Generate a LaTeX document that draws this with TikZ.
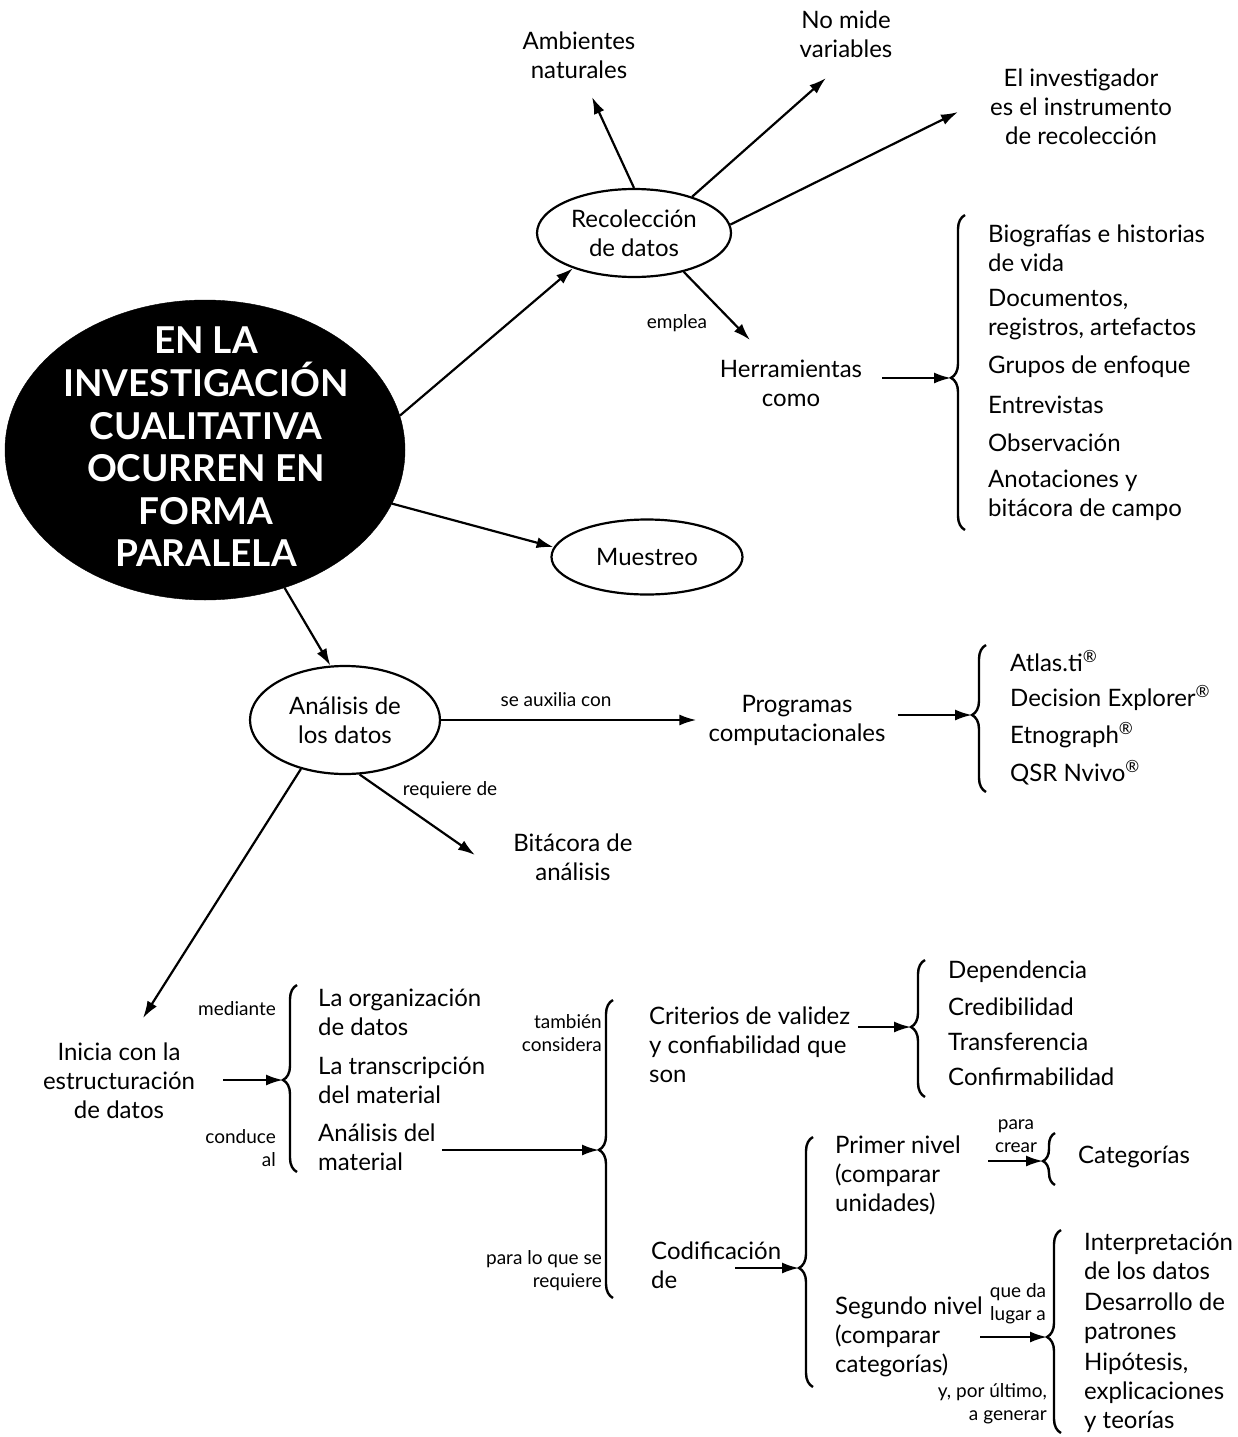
\documentclass[tikz,border=0pt]{standalone}
\usepackage{fontspec}
\setmainfont{Lato}
\usetikzlibrary{shapes.geometric,arrows.meta,decorations.pathreplacing,calc}
\newcommand\myfmain{\fontsize{24}{29}\selectfont}
\newcommand\myfsmall{\fontsize{19}{23}\selectfont}
\newcommand\myfbig{\fontsize{37}{42.6}\selectfont\bfseries}
\begin{document}
\begin{tikzpicture}[x=1pt,y=-1pt,
  arr/.style={line width=2.2pt,-{Latex[length=17pt,width=11pt]}},
  txt/.style={font=\myfmain,align=center,inner sep=0pt},
  txtl/.style={font=\myfmain,align=left,anchor=west,inner sep=0pt},
  lbl/.style={font=\myfsmall,inner sep=0pt},
  lblr/.style={font=\myfsmall,inner sep=0pt,anchor=east,align=right},
  oval/.style={draw,ellipse,line width=2.2pt,inner sep=0pt,font=\myfmain,align=center},
  brc/.style={decorate,decoration={brace,amplitude=14},line width=2.4pt}]
\useasboundingbox (0,0) rectangle (1237,1437);

% central node
\node[draw,fill=black,ellipse,minimum width=400,minimum height=300,inner sep=0pt] (main) at (205,450) {};
\node[font=\myfbig,text=white,align=center,inner sep=0pt] (maintxt) at (206,447) {EN LA\\INVESTIGACIÓN\\CUALITATIVA\\OCURREN EN\\FORMA\\PARALELA};

% ovals
\node[oval,minimum width=194,minimum height=88] (recol) at (634,233) {Recolección\\de datos};
\node[oval,minimum width=191,minimum height=75] (muest) at (647,557) {Muestreo};
\node[oval,minimum width=190,minimum height=108] (anal) at (345,720) {Análisis de\\los datos};

% top texts
\node[txt] (amb) at (579,55) {Ambientes\\naturales};
\node[txt] (nomide) at (846,34) {No mide\\variables};
\node[txt] (elinv) at (1081,107) {El investigador\\es el instrumento\\de recolección};
\coordinate (tamb) at (592,97);
\coordinate (tnom) at (826,78);
\coordinate (telinv) at (958,112);
\coordinate (therr) at (750,340);

\draw[arr] (main.10) -- (recol.210);
\draw[arr] (main.-16) -- (muest.174);
\draw[arr] (main.-60) -- (anal.105);
\draw[arr] (recol.90) -- (tamb);
\draw[arr] (recol.32) -- (tnom);
\draw[arr] (recol.5) -- (telinv);
\draw[arr] (recol.-38) -- (therr);
\node[lbl] (lemplea) at (677,323) {emplea};

% herramientas
\node[txt] (herr) at (791,383) {Herramientas\\como};
\draw[brc,decoration={aspect=0.483}] (965,530) -- (965,215);
\coordinate (b1) at (951,378);
\draw[arr] ($(herr.east |- b1)+(20,0)$) -- (b1);
\node[txtl] (i1a) at (988,248) {Biografías e historias\\de vida};
\node[txtl] (i1b) at (988,314.5) {Documentos,\\registros, artefactos};
\node[txtl] (i1c) at (988,367) {Grupos de enfoque};
\node[txtl] (i1d) at (988,405) {Entrevistas};
\node[txtl] (i1e) at (988,443) {Observación};
\node[txtl] (i1f) at (988,495.5) {Anotaciones y\\bitácora de campo};

% programas
\node[txt] (prog) at (797,720) {Programas\\computacionales};
\draw[arr] (anal.east) -- ($(prog.west)+(-12,0)$) coordinate (progin);
\node[lbl] (laux) at (556,700) {se auxilia con};
\draw[brc,decoration={aspect=0.524}] (986,792) -- (986,645);
\coordinate (b2) at (972,715);
\draw[arr] ($(prog.east |- b2)+(12,0)$) -- (b2);
\node[txtl] (i2a) at (1010,661) {Atlas.ti\textsuperscript{®}};
\node[txtl] (i2b) at (1010,698) {Decision Explorer\textsuperscript{®}};
\node[txtl] (i2c) at (1010,735) {Etnograph\textsuperscript{®}};
\node[txtl] (i2d) at (1010,773) {QSR Nvivo\textsuperscript{®}};

% bitacora
\node[txt] (bit) at (573,857) {Bitácora de\\análisis};
\coordinate (tbit) at (475,855);
\draw[arr] (anal.-75) -- (tbit);
\node[lbl] (lreq) at (450,790) {requiere de};

% inicia
\node[txt] (ini) at (119,1081) {Inicia con la\\estructuración\\de datos};
\coordinate (tini) at (143,1018);
\draw[arr] (anal.-132) -- (tini);
\draw[brc,decoration={aspect=0.492}] (297,1172) -- (297,985);
\coordinate (b3) at (283,1080);
\draw[arr] ($(ini.east |- b3)+(28,0)$) -- (b3);
\node[lblr] (lmed) at (276,1009) {mediante};
\node[lblr] (lcond) at (276,1148) {conduce\\al};
\node[txtl] (i3a) at (318,1012.5) {La organización\\de datos};
\node[txtl] (i3b) at (318,1080.5) {La transcripción\\del material};
\node[txtl] (i3c) at (318,1147.5) {Análisis del\\material};

% brace 4
\draw[brc,decoration={aspect=0.497}] (613,1298) -- (613,1000);
\coordinate (b4) at (599,1150);
\draw[arr] ($(i3c.east |- b4)+(6,0)$) -- (b4);
\node[lblr] (ltamb) at (602,1033.5) {también\\considera};
\node[lblr] (lpara) at (602,1271) {para lo que se\\requiere};

% criterios
\node[txtl] (crit) at (649,1044.5) {Criterios de validez\\y confiabilidad que\\son};
\draw[brc,decoration={aspect=0.511}] (925,1097) -- (925,960);
\coordinate (b5) at (911,1027);
\draw[arr] ($(crit.east |- b5)+(8,0)$) -- (b5);
\node[txtl] (i5a) at (948,972) {Dependencia};
\node[txtl] (i5b) at (948,1007) {Credibilidad};
\node[txtl] (i5c) at (948,1042) {Transferencia};
\node[txtl] (i5d) at (948,1077) {Confirmabilidad};

% codificacion
\node[txtl] (codif) at (651,1265) {Codificación\\de};
\draw[brc,decoration={aspect=0.476}] (813,1387) -- (813,1137);
\coordinate (b6) at (799,1268);
\draw[arr] ($(codif.west |- b6)+(84,0)$) -- (b6);

\node[txtl] (prim) at (835,1175.5) {Primer nivel\\(comparar\\unidades)};
\draw[brc,decoration={amplitude=12,aspect=0.46}] (1055,1185) -- (1055,1133);
\coordinate (b7) at (1043,1161);
\draw[arr] ($(prim.west |- b7)+(153,0)$) -- (b7);
\node[lbl,align=center] (lcrear) at (1016,1136) {para\\crear};
\node[txtl] (cat) at (1078,1157) {Categorías};

\node[txtl] (seg) at (835,1337) {Segundo nivel\\(comparar\\categorías)};
\draw[brc,decoration={aspect=0.473}] (1061,1433) -- (1061,1230);
\coordinate (b8) at (1047,1337);
\draw[arr] ($(seg.west |- b8)+(145,0)$) -- (b8);
\node[lbl,align=center] (lque) at (1018,1304) {que da\\lugar a};
\node[lblr] (lygen) at (1047,1403.5) {y, por último,\\a generar};
\node[txtl] (i8a) at (1084,1256) {Interpretación\\de los datos};
\node[txtl] (i8b) at (1084,1318) {Desarrollo de\\patrones};
\node[txtl] (i8c) at (1084,1393) {Hipótesis,\\explicaciones\\y teorías};
\end{tikzpicture}
\end{document}
